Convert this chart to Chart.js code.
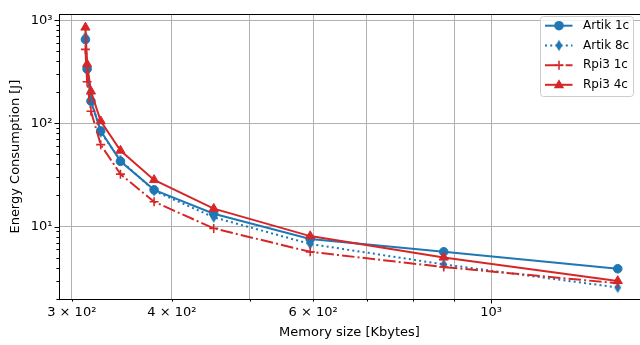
<!DOCTYPE html>
<html><head><meta charset="utf-8">
<script src="https://cdn.jsdelivr.net/npm/chart.js@4/dist/chart.umd.min.js"></script>
<style>html,body{margin:0;padding:0;background:#fff}canvas{display:block}</style>
</head><body>
<canvas id="c" width="640" height="345"></canvas>
<script>
// ---- data ----
const memorySize = [312, 313.5, 317, 326, 345, 380, 451, 595, 873, 1439];
const artik1c = [649, 336, 164, 84.5, 42.9, 22.7, 13.3, 7.57, 5.69, 3.90];
const artik8c = [690, 345, 170, 82, 44, 22.2, 12.3, 6.78, 4.3, 2.57];
const rpi31c  = [521, 253, 131, 62.2, 32.2, 17.4, 9.6, 5.69, 4.05, 2.82];
const rpi34c  = [850, 375, 204, 105, 54.5, 28.3, 14.9, 8.08, 5.02, 2.97];
const seriesNames = ['Artik 1c', 'Artik 8c', 'Rpi3 1c', 'Rpi3 4c'];
const xTickValues = [300, 400, 500, 600, 700, 800, 900, 1000];
const xTickLabels = ['3 × 10²', '4 × 10²', '', '6 × 10²', '', '', '', '10³'];
const yTickValues = [10, 100, 1000];
const yTickLabels = ['10¹', '10²', '10³'];
const yMinorTicks = [2,3,4,5,6,7,8,9,20,30,40,50,60,70,80,90,200,300,400,500,600,700,800,900];

const BLUE = '#1f77b4', RED = '#d62728';
const FONT = {family: 'DejaVu Sans', size: 13};

function thinDiamond(color) {
  const c = document.createElement('canvas');
  c.width = 10; c.height = 14;
  const g = c.getContext('2d');
  g.fillStyle = color;
  g.beginPath();
  g.moveTo(5, 1.6); g.lineTo(8.4, 7); g.lineTo(5, 12.4); g.lineTo(1.6, 7);
  g.closePath(); g.fill();
  return c;
}
const diamondImg = thinDiamond(BLUE);

function pts(arr) { return memorySize.map((x, i) => ({x: x, y: arr[i]})); }

const datasets = [
  {label: seriesNames[0], data: pts(artik1c), borderColor: BLUE, backgroundColor: BLUE,
   borderWidth: 2, pointStyle: 'circle', pointRadius: 4.3, pointBorderWidth: 1, order: 4},
  {label: seriesNames[1], data: pts(artik8c), borderColor: BLUE, backgroundColor: BLUE,
   borderWidth: 2, borderDash: [2, 3.2], pointStyle: diamondImg, pointRadius: 5, order: 3},
  {label: seriesNames[2], data: pts(rpi31c), borderColor: RED, backgroundColor: RED,
   borderWidth: 2, borderDash: [12.5, 3.1, 2, 3.1], pointStyle: 'cross', pointRadius: 4.5, pointBorderWidth: 1.6, order: 2},
  {label: seriesNames[3], data: pts(rpi34c), borderColor: RED, backgroundColor: RED,
   borderWidth: 2, pointStyle: 'triangle', pointRadius: 5.3, pointBorderWidth: 1, order: 1}
];
datasets.forEach(d => { d.showLine = true; d.tension = 0; d.fill = false; });

function line(ctx, x1, y1, x2, y2) { ctx.beginPath(); ctx.moveTo(x1, y1); ctx.lineTo(x2, y2); ctx.stroke(); }

function legendMarker(ctx, i, x, y) {
  ctx.save();
  if (i === 0) { ctx.fillStyle = BLUE; ctx.beginPath(); ctx.arc(x, y, 4.8, 0, Math.PI * 2); ctx.fill(); }
  else if (i === 1) { ctx.drawImage(diamondImg, x - 5, y - 7); }
  else if (i === 2) { ctx.strokeStyle = RED; ctx.lineWidth = 1.6; line(ctx, x - 4.5, y, x + 4.5, y); line(ctx, x, y - 4.5, x, y + 4.5); }
  else { ctx.fillStyle = RED; ctx.beginPath(); ctx.moveTo(x, y - 5.6); ctx.lineTo(x + 5.2, y + 3.4); ctx.lineTo(x - 5.2, y + 3.4); ctx.closePath(); ctx.fill(); }
  ctx.restore();
}

const decor = {
  id: 'decor',
  afterDraw(chart) {
    const ctx = chart.ctx, a = chart.chartArea, xs = chart.scales.x, ys = chart.scales.y;
    ctx.save();
    ctx.strokeStyle = '#000'; ctx.lineWidth = 1;
    xTickValues.forEach(v => {
      const p = Math.round(xs.getPixelForValue(v)) + 0.5;
      line(ctx, p, a.bottom, p, a.bottom + (v === 1000 ? 4.5 : 2.6));
    });
    yTickValues.forEach(v => {
      const p = Math.round(ys.getPixelForValue(v)) + 0.5;
      line(ctx, a.left - 4.5, p, a.left, p);
    });
    yMinorTicks.forEach(v => {
      const p = Math.round(ys.getPixelForValue(v)) + 0.5;
      line(ctx, a.left - 2.6, p, a.left, p);
    });
    // frame
    ctx.strokeRect(Math.round(a.left) + 0.5, Math.round(a.top) + 0.5, Math.round(a.right - a.left), Math.round(a.bottom - a.top));
    // legend
    const bx = 540.5, by = 16.5, bw = 93, bh = 80, r = 3;
    ctx.fillStyle = 'rgba(255,255,255,0.8)';
    ctx.strokeStyle = '#cccccc';
    ctx.beginPath();
    ctx.moveTo(bx + r, by); ctx.lineTo(bx + bw - r, by); ctx.arcTo(bx + bw, by, bx + bw, by + r, r);
    ctx.lineTo(bx + bw, by + bh - r); ctx.arcTo(bx + bw, by + bh, bx + bw - r, by + bh, r);
    ctx.lineTo(bx + r, by + bh); ctx.arcTo(bx, by + bh, bx, by + bh - r, r);
    ctx.lineTo(bx, by + r); ctx.arcTo(bx, by, bx + r, by, r);
    ctx.closePath(); ctx.fill(); ctx.stroke();
    const rows = [25.7, 45.5, 65.2, 84.8];
    chart.data.datasets.forEach((d, i) => {
      const y = rows[i];
      ctx.save();
      ctx.strokeStyle = d.borderColor; ctx.lineWidth = 2;
      ctx.setLineDash(d.borderDash || []);
      line(ctx, 545, y, 572.5, y);
      ctx.restore();
      legendMarker(ctx, i, 559, y);
      ctx.fillStyle = '#000';
      ctx.font = '12px "DejaVu Sans"';
      ctx.textBaseline = 'middle'; ctx.textAlign = 'left';
      ctx.fillText(d.label, 583, y);
    });
    ctx.restore();
  }
};

new Chart(document.getElementById('c'), {
  type: 'scatter',
  data: {datasets: datasets},
  options: {
    responsive: false, animation: false,
    layout: {autoPadding: false, padding: {left: 0, right: 0, top: 9, bottom: 0}},
    plugins: {legend: {display: false}, tooltip: {enabled: false}},
    scales: {
      x: {
        type: 'logarithmic', min: 289.2, max: 1534,
        afterBuildTicks: s => { s.ticks = xTickValues.map(v => ({value: v})); },
        afterFit: s => { s.height = 46; },
        ticks: {autoSkip: false, maxRotation: 0, minRotation: 0, padding: 6, color: '#000', font: FONT,
                callback: (v, i) => xTickLabels[i]},
        grid: {color: '#b0b0b0', lineWidth: 1, drawTicks: false},
        border: {display: true, color: '#000', width: 1},
        title: {display: true, text: 'Memory size [Kbytes]', color: '#000', font: FONT, padding: {top: 5, bottom: 5}}
      },
      y: {
        type: 'logarithmic', min: 1.986, max: 1140,
        afterBuildTicks: s => { s.ticks = yTickValues.map(v => ({value: v})); },
        afterFit: s => { s.width = 59; },
        ticks: {autoSkip: false, padding: 6.5, color: '#000', font: FONT,
                callback: (v, i) => yTickLabels[i]},
        grid: {color: '#b0b0b0', lineWidth: 1, drawTicks: false},
        border: {display: true, color: '#000', width: 1},
        title: {display: true, text: 'Energy Consumption [J]', color: '#000', font: FONT, padding: {top: 8, bottom: 8}}
      }
    }
  },
  plugins: [decor]
});
</script>
</body></html>
